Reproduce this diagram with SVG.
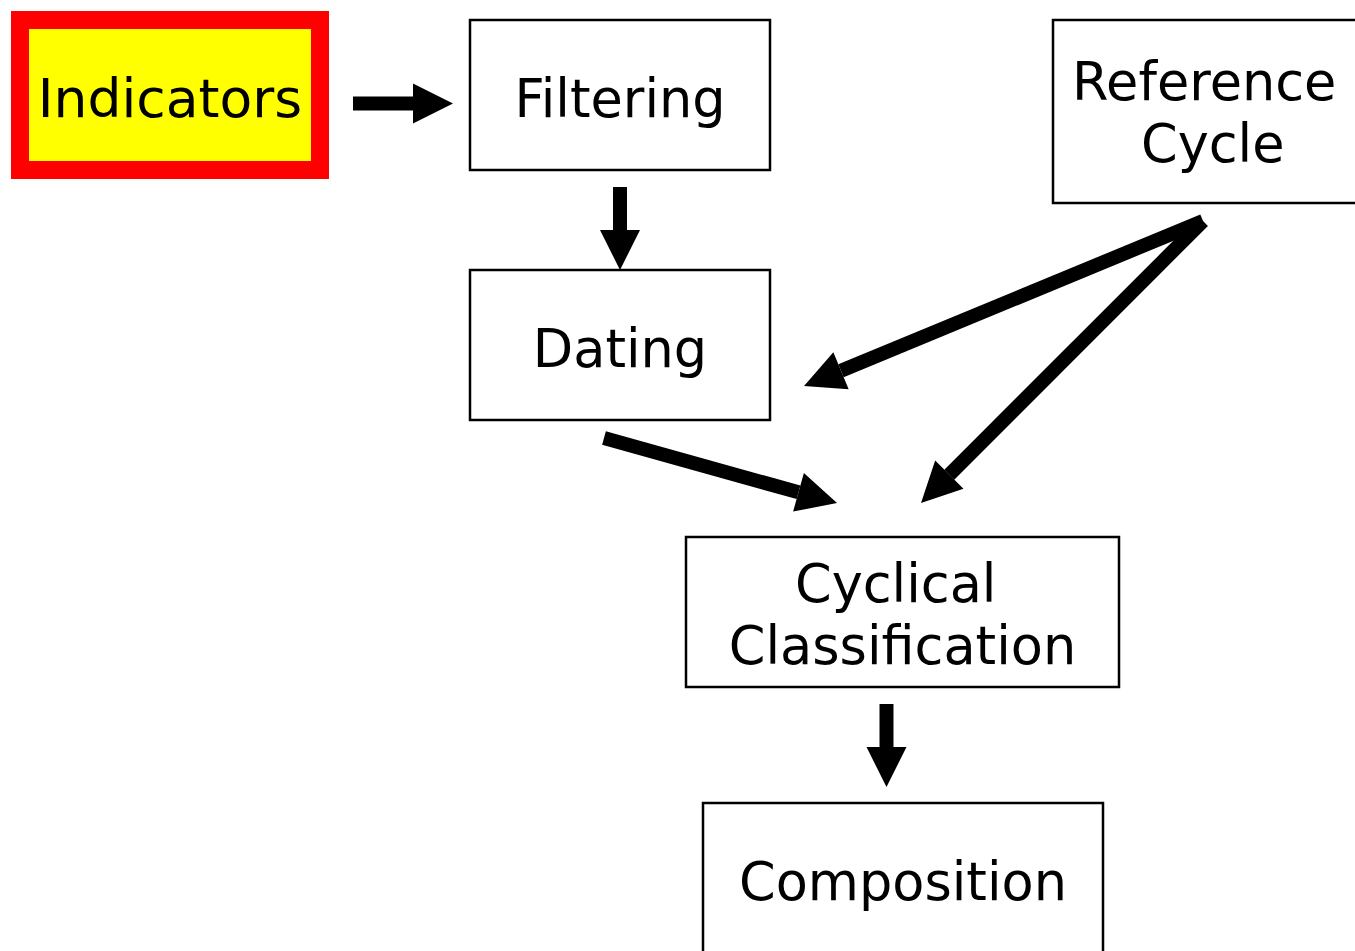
<svg xmlns="http://www.w3.org/2000/svg" width="1355" height="951" viewBox="0 0 1355 951">
<defs>
<style>
.box{fill:#fff;stroke:#000;stroke-width:2.5}
.t{font-family:"DejaVu Sans",Verdana,sans-serif;font-size:52.5px;fill:#000}
.c{text-anchor:middle}
.arr{stroke:#000;stroke-width:14;fill:none;marker-end:url(#ah)}
</style>
<marker id="ah" markerUnits="userSpaceOnUse" markerWidth="41" markerHeight="41" refX="0" refY="20" orient="auto" viewBox="0 0 41 41" overflow="visible">
<path d="M0,0 L40,20 L0,40 Z" fill="#000"/>
</marker>
</defs>
<rect width="1355" height="951" fill="#fff"/>
<g id="indicators">
<rect x="20" y="20" width="300" height="150" fill="#ffff00" stroke="#ff0000" stroke-width="18"/>
<text class="t c" x="170" y="117" style="font-size:53.5px">Indicators</text>
</g>
<g id="filtering">
<rect class="box" x="470" y="20" width="300" height="150"/>
<text class="t c" x="620" y="117">Filtering</text>
</g>
<g id="dating">
<rect class="box" x="470" y="270" width="300" height="150"/>
<text class="t c" x="620" y="367">Dating</text>
</g>
<g id="reference-cycle">
<rect class="box" x="1053" y="20" width="320" height="183"/>
<text class="t" x="1072" y="100">Reference</text>
<text class="t" x="1141" y="162">Cycle</text>
</g>
<g id="cyclical-classification">
<rect class="box" x="686" y="537" width="433" height="150"/>
<text class="t" x="795" y="602">Cyclical</text>
<text class="t c" x="902.5" y="664">Classification</text>
</g>
<g id="composition">
<rect class="box" x="703" y="803" width="400" height="160"/>
<text class="t c" x="903" y="900">Composition</text>
</g>
<g id="connectors">
<line class="arr" x1="353" y1="103.5" x2="413" y2="103.5"/>
<line class="arr" x1="620" y1="187" x2="620" y2="230"/>
<line class="arr" x1="604" y1="438" x2="798.5" y2="492.3"/>
<line class="arr" x1="1203" y1="221" x2="841" y2="370.7"/>
<line class="arr" x1="1203" y1="221" x2="949.3" y2="474.7"/>
<line class="arr" x1="886.5" y1="704" x2="886.5" y2="747"/>
</g>
</svg>
